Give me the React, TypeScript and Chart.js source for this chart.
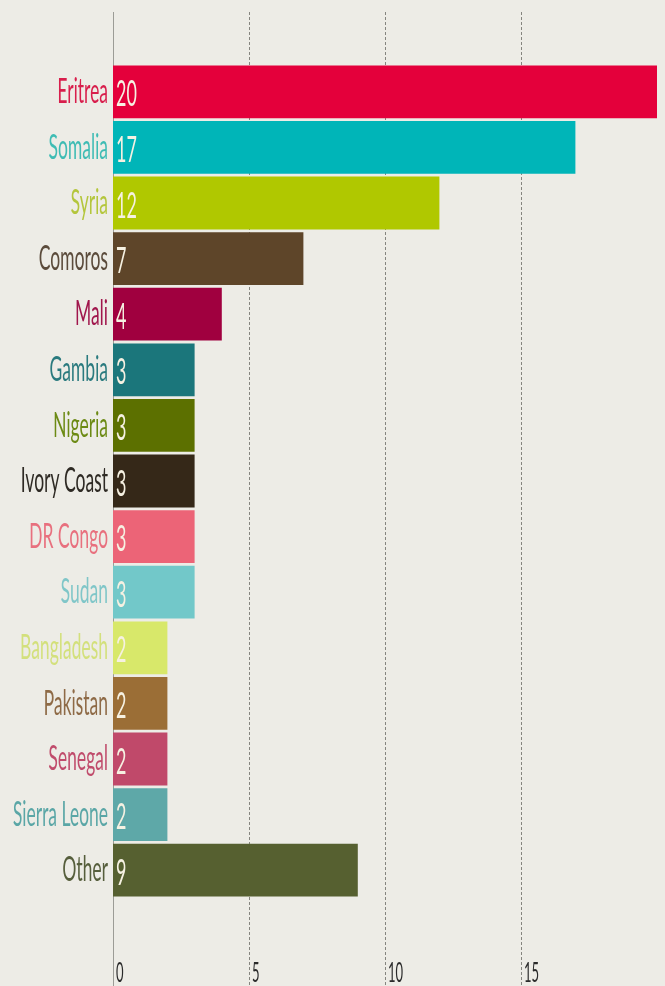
import { useEffect, useRef } from 'react';
import { Chart, registerables } from 'chart.js';

Chart.register(...registerables);

const categories = [
  'Eritrea', 'Somalia', 'Syria', 'Comoros', 'Mali', 'Gambia', 'Nigeria', 'Ivory Coast',
  'DR Congo', 'Sudan', 'Bangladesh', 'Pakistan', 'Senegal', 'Sierra Leone', 'Other',
];
const values = [20, 17, 12, 7, 4, 3, 3, 3, 3, 3, 2, 2, 2, 2, 9];
const barColors = [
  '#e4003b', '#00b5b8', '#b0c800', '#5e4529', '#a0003f', '#1b767b', '#5c7000', '#352818',
  '#ec6477', '#72c8c9', '#d8e86a', '#9b6e36', '#c0496a', '#5ea8a8', '#566030',
];
const labelColors = [
  '#d81e4c', '#3fbcb4', '#b4c63c', '#5b4b3b', '#a0164c', '#2a7a7e', '#6c8a14', '#2e2a24',
  '#e8707e', '#80c6c8', '#d3e07c', '#8e6a46', '#c04c6c', '#5aa6a6', '#565e3c',
];
const xTickValues = [0, 5, 10, 15];
const xMax = 20;

const SCALE_X = 0.5;
const PAGE_W = 665;
const PAGE_H = 986;
const CANVAS_W = Math.round(PAGE_W / SCALE_X);
const BG = '#edece6';
const FONT = 'Lato, "Liberation Sans", sans-serif';

const gridPlugin = {
  id: 'extendedGrid',
  beforeDatasetsDraw(chart: any) {
    const { ctx } = chart;
    const x = chart.scales.x;
    ctx.save();
    xTickValues.forEach((v) => {
      const px = Math.round(x.getPixelForValue(v)) + 1;
      ctx.beginPath();
      ctx.lineWidth = 2;
      if (v === 0) {
        ctx.setLineDash([]);
        ctx.strokeStyle = '#9c9c96';
      } else {
        ctx.setLineDash([3, 2]);
        ctx.strokeStyle = '#85857f';
      }
      ctx.moveTo(px, 12);
      ctx.lineTo(px, chart.height);
      ctx.stroke();
    });
    ctx.restore();
  },
};

const valueLabelPlugin = {
  id: 'valueLabels',
  afterDatasetsDraw(chart: any) {
    const { ctx } = chart;
    const meta = chart.getDatasetMeta(0);
    ctx.save();
    ctx.font = `36px ${FONT}`;
    ctx.fillStyle = '#f6f1e2';
    ctx.textAlign = 'left';
    ctx.textBaseline = 'middle';
    meta.data.forEach((el: any, i: number) => {
      const { y, base } = el.getProps(['y', 'base'], true);
      ctx.fillText(String(values[i]), base + 6, y + 3);
    });
    ctx.restore();
  },
};

export default function App() {
  const ref = useRef<HTMLCanvasElement>(null);

  useEffect(() => {
    document.body.style.margin = '0';
    document.body.style.background = BG;
    const chart = new Chart(ref.current as HTMLCanvasElement, {
      type: 'bar',
      data: {
        labels: categories,
        datasets: [
          {
            data: values,
            backgroundColor: barColors,
            borderWidth: 0,
            barPercentage: 0.95,
            categoryPercentage: 1,
          },
        ],
      },
      options: {
        indexAxis: 'y',
        responsive: false,
        animation: false,
        devicePixelRatio: 1,
        layout: { padding: { top: 64, right: 16, left: 0, bottom: 0 } },
        plugins: {
          legend: { display: false },
          tooltip: { enabled: false },
          title: { display: false },
        },
        scales: {
          x: {
            type: 'linear',
            min: 0,
            max: xMax,
            position: 'bottom',
            grid: { display: false },
            border: { display: false },
            afterBuildTicks: (scale: any) => {
              scale.ticks = xTickValues.map((v) => ({ value: v }));
            },
            afterFit: (scale: any) => {
              scale.height = 88;
            },
            ticks: {
              autoSkip: false,
              maxRotation: 0,
              align: 'start',
              labelOffset: 6,
              padding: 52,
              color: '#2a2a2a',
              font: { family: FONT, size: 26 },
            },
          },
          y: {
            type: 'category',
            grid: { display: false, drawTicks: false },
            border: { display: false },
            afterFit: (scale: any) => {
              scale.width = 226;
            },
            ticks: {
              autoSkip: false,
              padding: 10,
              color: (c: any) => labelColors[c.index],
              font: { family: FONT, size: 35 },
            },
          },
        },
      },
      plugins: [gridPlugin, valueLabelPlugin],
    } as any);
    return () => chart.destroy();
  }, []);

  return (
    <div
      style={{
        width: PAGE_W,
        height: PAGE_H,
        overflow: 'hidden',
        background: BG,
        position: 'relative',
      }}
    >
      <canvas
        ref={ref}
        width={CANVAS_W}
        height={PAGE_H}
        style={{
          display: 'block',
          transform: `scaleX(${SCALE_X})`,
          transformOrigin: '0 0',
        }}
      />
    </div>
  );
}
